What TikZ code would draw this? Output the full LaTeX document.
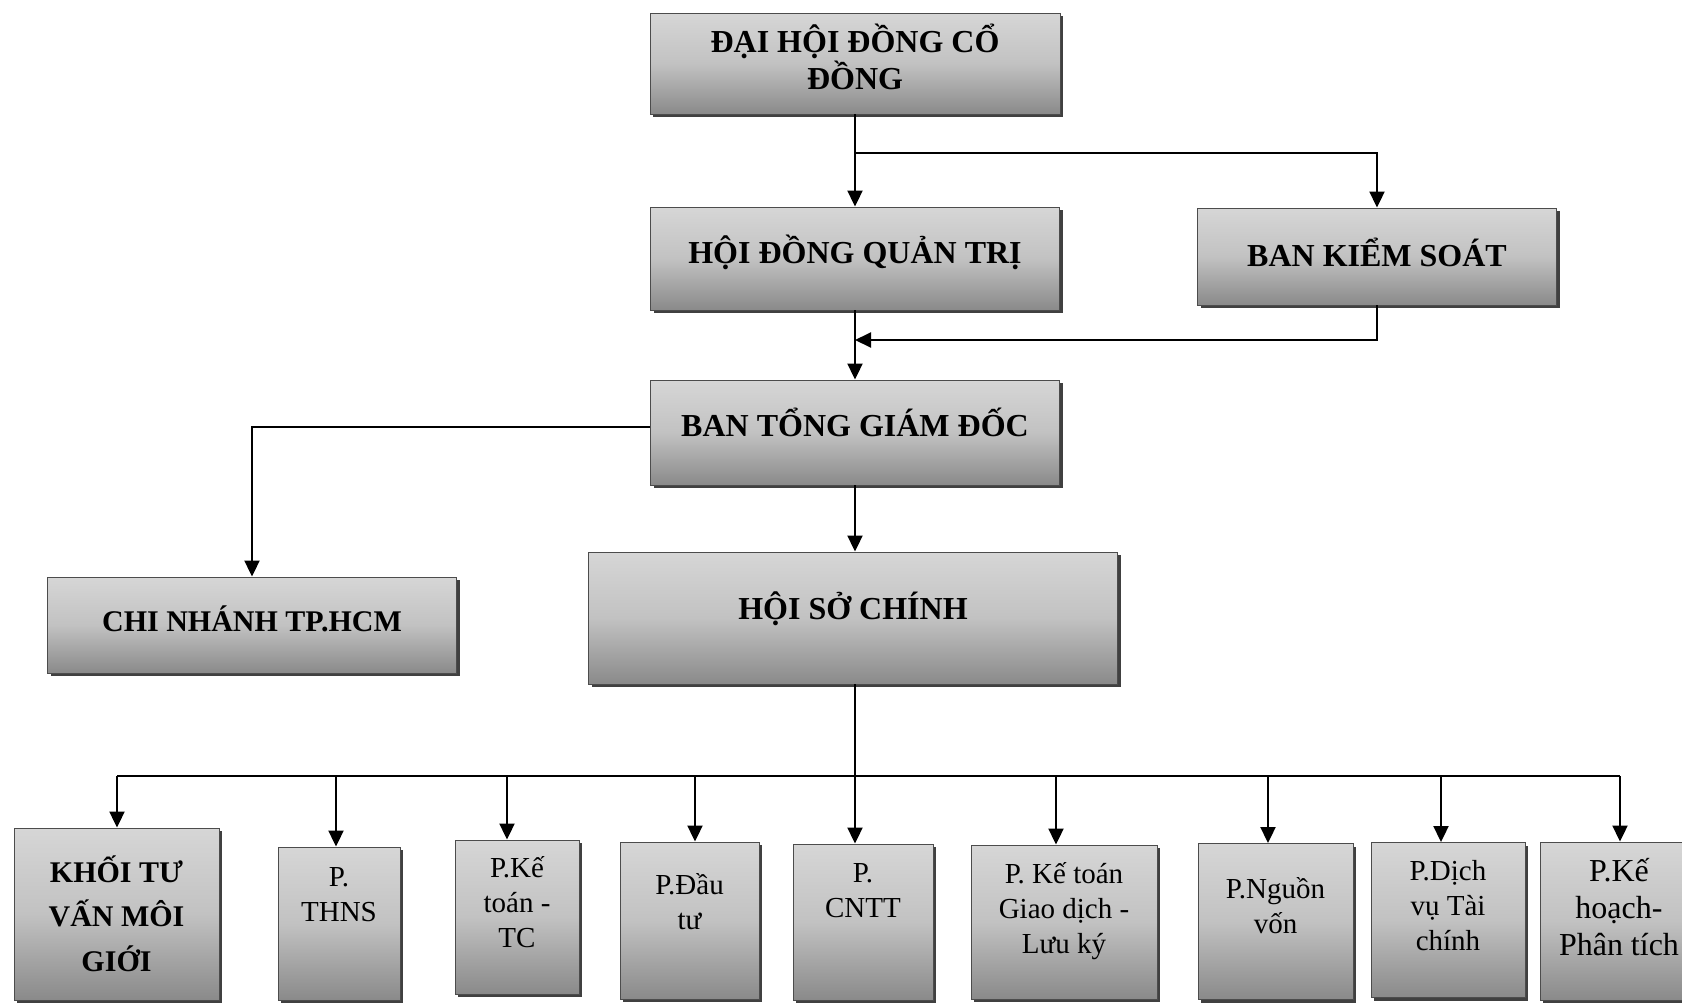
\documentclass[tikz,border=0pt]{standalone}
\usepackage{fontspec}
\setmainfont{Liberation Serif}
\usetikzlibrary{arrows.meta,shadows}
\begin{document}
\begin{tikzpicture}[x=1pt,y=-1pt,
  boxbase/.style={draw=black!70, line width=0.9pt,
    top color=black!16, bottom color=black!46, middle color=black!24,
    general shadow={fill=black!75, shadow xshift=3pt, shadow yshift=-3pt},
    inner sep=0pt},
  mainbox/.style={boxbase, font=\fontsize{32}{37}\selectfont\bfseries, align=center},
  subbox/.style={boxbase},
  sublabel/.style={font=\fontsize{29}{35}\selectfont, align=center, anchor=north, inner sep=0pt},
  conn/.style={line width=2pt},
  arr/.style={line width=2pt, -{Triangle[length=16pt,width=15pt]}}
]
\useasboundingbox (0,0) rectangle (1682,1004);

% main boxes
\node[mainbox, minimum width=410pt, minimum height=101pt, text depth=13pt] (dh) at (855,63.5) {ĐẠI HỘI ĐỒNG CỔ\\ĐỒNG};
\node[mainbox, minimum width=409pt, minimum height=103pt, text height=30pt, text depth=20pt] (hd) at (855,258.5) {HỘI ĐỒNG QUẢN TRỊ};
\node[mainbox, minimum width=359pt, minimum height=97pt, text height=30pt, text depth=11pt] (bks) at (1377,256.5) {BAN KIỂM SOÁT};
\node[mainbox, minimum width=409pt, minimum height=105pt, text height=30pt, text depth=22pt] (bt) at (855,432.5) {BAN TỔNG GIÁM ĐỐC};
\node[mainbox, minimum width=409pt, minimum height=96pt, font=\fontsize{30}{34}\selectfont\bfseries, text height=30pt, text depth=18pt] (cn) at (252,625) {CHI NHÁNH TP.HCM};
\node[mainbox, minimum width=529pt, minimum height=132pt, text height=30pt, text depth=28pt] (hs) at (853,618) {HỘI SỞ CHÍNH};

% bottom boxes
\node[subbox, minimum width=205pt, minimum height=172pt] (b1) at (116.5,914) {};
\node[subbox, minimum width=122pt, minimum height=153pt] (b2) at (339,923.5) {};
\node[subbox, minimum width=124pt, minimum height=154pt] (b3) at (517,917) {};
\node[subbox, minimum width=139pt, minimum height=157pt] (b4) at (689.5,920.5) {};
\node[subbox, minimum width=140pt, minimum height=156pt] (b5) at (863,922) {};
\node[subbox, minimum width=186pt, minimum height=154pt] (b6) at (1064,922) {};
\node[subbox, minimum width=155pt, minimum height=156pt] (b7) at (1275.5,921.5) {};
\node[subbox, minimum width=154pt, minimum height=155pt] (b8) at (1448,920) {};
\node[subbox, minimum width=160pt, minimum height=158pt] (b9) at (1620,921) {};

% bottom labels
\node[sublabel, font=\fontsize{30}{44.5}\selectfont\bfseries] (l1) at (116.5,852) {\rule{0pt}{30pt}KHỐI TƯ\\VẤN MÔI\\GIỚI};
\node[sublabel] (l2) at (339,856) {\rule{0pt}{30pt}P.\\THNS};
\node[sublabel] (l3) at (517,847) {\rule{0pt}{30pt}P.Kế\\toán -\\TC};
\node[sublabel] (l4) at (689.5,864) {\rule{0pt}{30pt}P.Đầu\\tư};
\node[sublabel] (l5) at (863,852) {\rule{0pt}{30pt}P.\\CNTT};
\node[sublabel] (l6) at (1064,853) {\rule{0pt}{30pt}P. Kế toán\\Giao dịch -\\Lưu ký};
\node[sublabel] (l7) at (1275.5,868) {\rule{0pt}{30pt}P.Nguồn\\vốn};
\node[sublabel] (l8) at (1448,850) {\rule{0pt}{30pt}P.Dịch\\vụ Tài\\chính};
\node[sublabel, font=\fontsize{32}{37}\selectfont] (l9) at (1619,850) {\rule{0pt}{31pt}P.Kế\\hoạch-\\Phân tích};

% junctions
\coordinate (j1) at (855,153);
\coordinate (j2) at (855,340);
\coordinate (t1) at (117,776);
\coordinate (t2) at (336,776);
\coordinate (t3) at (507,776);
\coordinate (t4) at (695,776);
\coordinate (t6) at (1056,776);
\coordinate (t7) at (1268,776);
\coordinate (t8) at (1441,776);
\coordinate (t9) at (1620,776);

% connectors
\draw[arr] (dh.south) -- (hd.north);
\draw[arr] (j1) -| (bks.north);
\draw[arr] (hd.south) -- (bt.north);
\draw[arr] (bks.south) |- (j2);
\draw[arr] ([yshift=6pt]bt.west) -| (cn.north);
\draw[arr] (bt.south) -- (bt.south |- hs.north);
\draw[arr] (bt.south |- hs.south) -- (bt.south |- b5.north);
\draw[conn] (t1) -- (t9);
\draw[arr] (t1) -- (t1 |- b1.north);
\draw[arr] (t2) -- (t2 |- b2.north);
\draw[arr] (t3) -- (t3 |- b3.north);
\draw[arr] (t4) -- (t4 |- b4.north);
\draw[arr] (t6) -- (t6 |- b6.north);
\draw[arr] (t7) -- (t7 |- b7.north);
\draw[arr] (t8) -- (t8 |- b8.north);
\draw[arr] (t9) -- (t9 |- b9.north);
\end{tikzpicture}
\end{document}
